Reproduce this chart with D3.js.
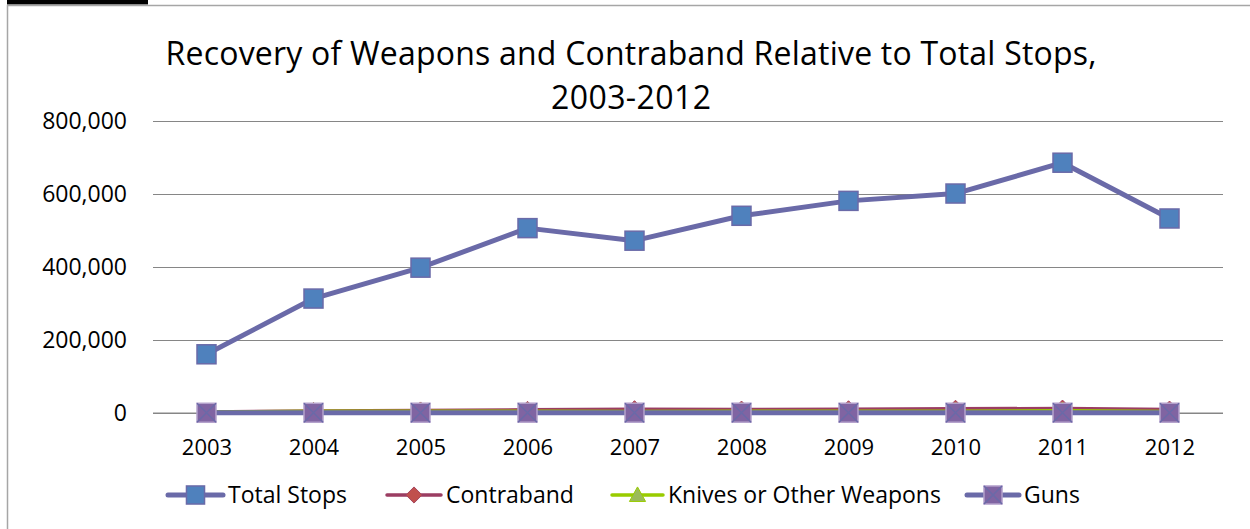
<!DOCTYPE html>
<html>
<head>
<meta charset="utf-8">
<script src="https://cdn.jsdelivr.net/npm/d3@7/dist/d3.min.js"></script>
<style>
  html, body { margin: 0; padding: 0; background: #fff; }
  svg { display: block; }
  text { font-family: "Open Sans", "Noto Sans", sans-serif; fill: #000; }
</style>
</head>
<body>
<svg id="chart" width="1250" height="529"></svg>
<script>
// Years on the category axis
const years = ["2003", "2004", "2005", "2006", "2007", "2008", "2009", "2010", "2011", "2012"];

// Series values
const totalStops = [160851, 313523, 398191, 506491, 472096, 540302, 581168, 601285, 685724, 532911];
const contraband = [2900, 5600, 7000, 8600, 10500, 9400, 10300, 11700, 12200, 9400];
const knives = [2500, 4500, 4600, 4600, 4300, 4700, 4500, 5100, 5900, 4200];
const guns = [627, 635, 772, 882, 795, 824, 762, 762, 780, 729];

// Y axis tick values
const yTicks = [0, 200000, 400000, 600000, 800000];

const seriesNames = ["Total Stops", "Contraband", "Knives or Other Weapons", "Guns"];

const series = [
  { name: seriesNames[0], values: totalStops, line: "#6a6aa8", width: 5, marker: "square", fill: "#4f81bd", stroke: "#6a6aa8" },
  { name: seriesNames[1], values: contraband, line: "#9b3d62", width: 3.5, marker: "diamond", fill: "#c0504d", stroke: "#a5455f" },
  { name: seriesNames[2], values: knives, line: "#99cc00", width: 3.5, marker: "triangle", fill: "#9bbb59", stroke: "#99cc00" },
  { name: seriesNames[3], values: guns, line: "#6a6aa8", width: 5, marker: "xsquare", fill: "#8064a2", stroke: "#b4a2cc" }
];

const svg = d3.select("#chart");

// Frame of the chart area and the strip above it
svg.append("rect").attr("x", 7).attr("y", 0).attr("width", 141).attr("height", 4.5).attr("fill", "#000");
svg.append("rect").attr("x", 7.5).attr("y", 5.5).attr("width", 1300).attr("height", 600)
  .attr("fill", "none").attr("stroke", "#a6a6a6").attr("stroke-width", 1.5);

// Title
const title = svg.append("text").attr("text-anchor", "middle").style("font-size", "32px");
title.append("tspan").attr("x", 631).attr("y", 65)
  .attr("textLength", 931).attr("lengthAdjust", "spacing")
  .text("Recovery of Weapons and Contraband Relative to Total Stops,");
title.append("tspan").attr("x", 631).attr("y", 109)
  .attr("textLength", 160).attr("lengthAdjust", "spacing")
  .text("2003-2012");

const plot = { left: 153, right: 1223, top: 121, bottom: 413 };

const x = d3.scalePoint().domain(years).range([plot.left, plot.right]).padding(0.5);
const y = d3.scaleLinear().domain([0, 800000]).range([plot.bottom, plot.top]);

// Gridlines via axis
const grid = svg.append("g").attr("transform", `translate(${plot.left},0)`)
  .call(d3.axisLeft(y).tickValues(yTicks).tickSize(-(plot.right - plot.left)).tickFormat(""));
grid.select(".domain").remove();
grid.selectAll("line").attr("stroke", "#868686").attr("stroke-width", 1);

// Y tick labels
const yAxis = svg.append("g").attr("transform", `translate(${plot.left},0)`)
  .call(d3.axisLeft(y).tickValues(yTicks).tickSize(0).tickPadding(26).tickFormat(d3.format(",")));
yAxis.select(".domain").remove();
yAxis.selectAll("text").style("font-size", "23px").style("font-family", "'Open Sans', sans-serif").attr("fill", "#000");

// X axis
const xAxis = svg.append("g").attr("transform", `translate(0,${plot.bottom})`)
  .call(d3.axisBottom(x).tickSize(0).tickPadding(26));
xAxis.select(".domain").remove();
xAxis.selectAll("text").style("font-size", "22px").style("font-family", "'Open Sans', sans-serif").attr("fill", "#000");
svg.append("line").attr("x1", plot.left).attr("x2", plot.right).attr("y1", y(0)).attr("y2", y(0))
  .attr("stroke", "#868686").attr("stroke-width", 1);

// Marker drawing
function drawMarker(g, s, cx, cy, scale) {
  const k = scale || 1;
  if (s.marker === "square" || s.marker === "xsquare") {
    const h = 9.5 * k;
    g.append("rect").attr("x", cx - h).attr("y", cy - h).attr("width", 2 * h).attr("height", 2 * h)
      .attr("fill", s.fill).attr("stroke", s.stroke).attr("stroke-width", 1.5);
    if (s.marker === "xsquare") {
      g.append("path").attr("d", `M${cx - h},${cy - h}L${cx + h},${cy + h}M${cx + h},${cy - h}L${cx - h},${cy + h}`)
        .attr("stroke", "#6a6aa8").attr("stroke-width", 1.5);
    }
  } else if (s.marker === "diamond") {
    const h = 8.5 * k;
    g.append("path").attr("d", `M${cx},${cy - h}L${cx + h},${cy}L${cx},${cy + h}L${cx - h},${cy}Z`)
      .attr("fill", s.fill).attr("stroke", s.stroke).attr("stroke-width", 1);
  } else if (s.marker === "triangle") {
    const h = 8.5 * k;
    g.append("path").attr("d", `M${cx},${cy - h}L${cx + h},${cy + h * 0.8}L${cx - h},${cy + h * 0.8}Z`)
      .attr("fill", s.fill).attr("stroke", s.stroke).attr("stroke-width", 1);
  }
}

const line = d3.line().x((d, i) => x(years[i])).y(d => y(d));

series.forEach(s => {
  const g = svg.append("g");
  g.append("path").datum(s.values).attr("d", line).attr("fill", "none")
    .attr("stroke", s.line).attr("stroke-width", s.width).attr("stroke-linejoin", "round");
  s.values.forEach((v, i) => drawMarker(g, s, x(years[i]), y(v)));
});

// Legend
const legendItems = [
  { x: 168, textX: 228 },
  { x: 387, textX: 446 },
  { x: 612, textX: 668 },
  { x: 967, textX: 1024 }
];
const legendY = 495;
series.forEach((s, i) => {
  const li = legendItems[i];
  const g = svg.append("g");
  g.append("line").attr("x1", li.x).attr("x2", li.textX - 5).attr("y1", legendY).attr("y2", legendY)
    .attr("stroke", s.line).attr("stroke-width", s.width).attr("stroke-linecap", "round");
  drawMarker(g, s, (li.x + li.textX - 5) / 2, legendY, 0.95);
  g.append("text").attr("x", li.textX).attr("y", legendY + 8).style("font-size", "23px").text(s.name);
});
</script>
</body>
</html>
